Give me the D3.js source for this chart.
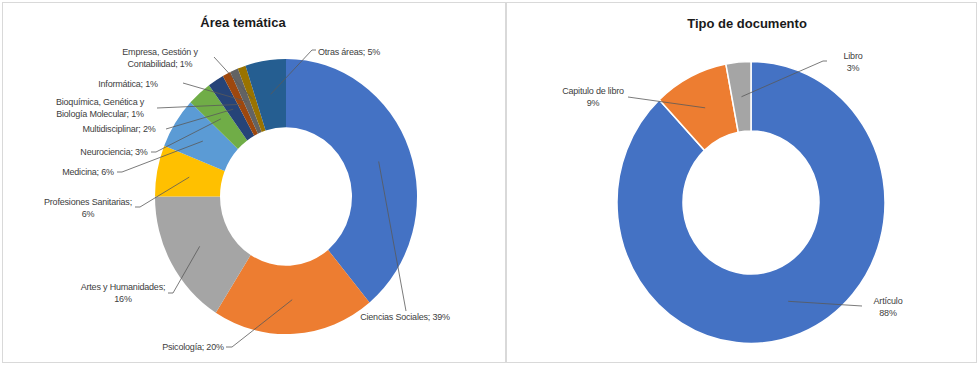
<!DOCTYPE html>
<html>
<head>
<meta charset="utf-8">
<script src="https://cdn.jsdelivr.net/npm/d3@7"></script>
<style>
  body { margin: 0; background: #fff; }
  svg { display: block; }
  .lbl { font-family: "Liberation Sans", Arial, sans-serif; font-size: 9px; letter-spacing: -0.2px; fill: #404040; }
  .ttl { font-family: "Liberation Sans", Arial, sans-serif; font-size: 13px; font-weight: bold; fill: #1a1a1a; }
</style>
</head>
<body>
<svg id="chart" width="980" height="367"></svg>
<script>
// data: area tematica
var areaNames = ["Ciencias Sociales", "Psicología", "Artes y Humanidades", "Profesiones Sanitarias",
  "Medicina", "Neurociencia", "Multidisciplinar", "Bioquímica, Genética y Biología Molecular",
  "Informática", "Empresa, Gestión y Contabilidad", "Otras áreas"];
var areaValues = [39, 20, 16, 6, 6, 3, 2, 1, 1, 1, 5];
var areaColors = ["#4472c4", "#ed7d31", "#a5a5a5", "#ffc000", "#5b9bd5", "#70ad47",
  "#264478", "#9e480e", "#636363", "#997300", "#255e91"];

// data: tipo de documento
var docNames = ["Artículo", "Capitulo de libro", "Libro"];
var docValues = [88, 9, 3];
var docColors = ["#4472c4", "#ed7d31", "#a5a5a5"];

// label placement (layout only): text centre, first baseline, words on line 1, leader start, stub
var areaLayout = [
  {x: 405, y: 320, words: 0, sx: 406, sy: 311, stub: 0},
  {x: 193, y: 350, words: 0, sx: 226, sy: 347, stub: 6},
  {x: 123, y: 290, words: 3, sx: 168, sy: 293, stub: 5},
  {x: 88,  y: 205, words: 2, sx: 135, sy: 207, stub: 5},
  {x: 88,  y: 175, words: 0, sx: 117, sy: 172, stub: 5},
  {x: 114, y: 155, words: 0, sx: 151, sy: 152, stub: 5},
  {x: 119, y: 132, words: 0, sx: 166, sy: 129, stub: 0},
  {x: 100, y: 105, words: 3, sx: 157, sy: 108, stub: 0},
  {x: 128, y: 87,  words: 0, sx: 183, sy: 83,  stub: 0},
  {x: 160, y: 55,  words: 3, sx: 214, sy: 57,  stub: 0},
  {x: 349, y: 55,  words: 0, sx: 316, sy: 50,  stub: -4}
];
var docLayout = [
  {x: 888, y: 304, sx: 862, sy: 306, stub: 0},
  {x: 593, y: 94,  sx: 628, sy: 97,  stub: 0},
  {x: 853, y: 59,  sx: 827, sy: 61,  stub: -4}
];

var svg = d3.select("#chart");

// panel frames
svg.append("rect").attr("x", 2.5).attr("y", 2.5).attr("width", 503).attr("height", 360)
  .attr("fill", "#fff").attr("stroke", "#d9d9d9");
svg.append("rect").attr("x", 506.5).attr("y", 2.5).attr("width", 470).attr("height", 360)
  .attr("fill", "#fff").attr("stroke", "#d9d9d9");

function donut(opts) {
  var pie = d3.pie().sort(null).value(function(d) { return d.v; });
  var data = opts.values.map(function(v, i) { return {v: v, name: opts.names[i], color: opts.colors[i]}; });
  var arcs = pie(data);
  var arc = d3.arc().innerRadius(opts.r0).outerRadius(opts.r1);
  var mid = d3.arc().innerRadius((opts.r0 + opts.r1) / 2).outerRadius((opts.r0 + opts.r1) / 2);

  svg.append("text").attr("class", "ttl").attr("x", opts.tx).attr("y", opts.ty)
    .attr("text-anchor", "middle").text(opts.title);

  svg.append("g")
    .attr("transform", "translate(" + opts.cx + "," + opts.cy + ") scale(1," + opts.sy + ")")
    .selectAll("path").data(arcs).enter().append("path")
    .attr("d", arc)
    .attr("fill", function(d) { return d.data.color; })
    .attr("stroke", opts.stroke ? "#fff" : "none")
    .attr("stroke-width", opts.stroke ? 1.5 : 0);

  arcs.forEach(function(d, i) {
    var lay = opts.layout[i];
    var c = mid.centroid(d);
    var px = opts.cx + c[0], py = opts.cy + c[1] * opts.sy;
    var pts = [[lay.sx, lay.sy]];
    if (lay.stub) pts.push([lay.sx + lay.stub, lay.sy]);
    pts.push([px, py]);
    svg.append("path")
      .attr("d", d3.line()(pts))
      .attr("fill", "none").attr("stroke", "#595959").attr("stroke-width", 0.8);

    var lines = opts.lines(d.data, lay);
    var t = svg.append("text").attr("class", "lbl").attr("text-anchor", "middle");
    lines.forEach(function(s, j) {
      t.append("tspan").attr("x", lay.x).attr("y", lay.y + j * 12).text(s);
    });
  });
}

donut({
  title: "Área temática", tx: 243, ty: 27,
  cx: 286, cy: 196.5, r0: 66, r1: 131, sy: 1.05, stroke: false,
  names: areaNames, values: areaValues, colors: areaColors, layout: areaLayout,
  lines: function(d, lay) {
    var full = d.name + "; " + d.v + "%";
    if (!lay.words) return [full];
    var w = full.split(" ");
    return [w.slice(0, lay.words).join(" "), w.slice(lay.words).join(" ")];
  }
});

donut({
  title: "Tipo de documento", tx: 747, ty: 28,
  cx: 751, cy: 202.5, r0: 68, r1: 134, sy: 1.052, stroke: true,
  names: docNames, values: docValues, colors: docColors, layout: docLayout,
  lines: function(d) { return [d.name, d.v + "%"]; }
});
</script>
</body>
</html>
